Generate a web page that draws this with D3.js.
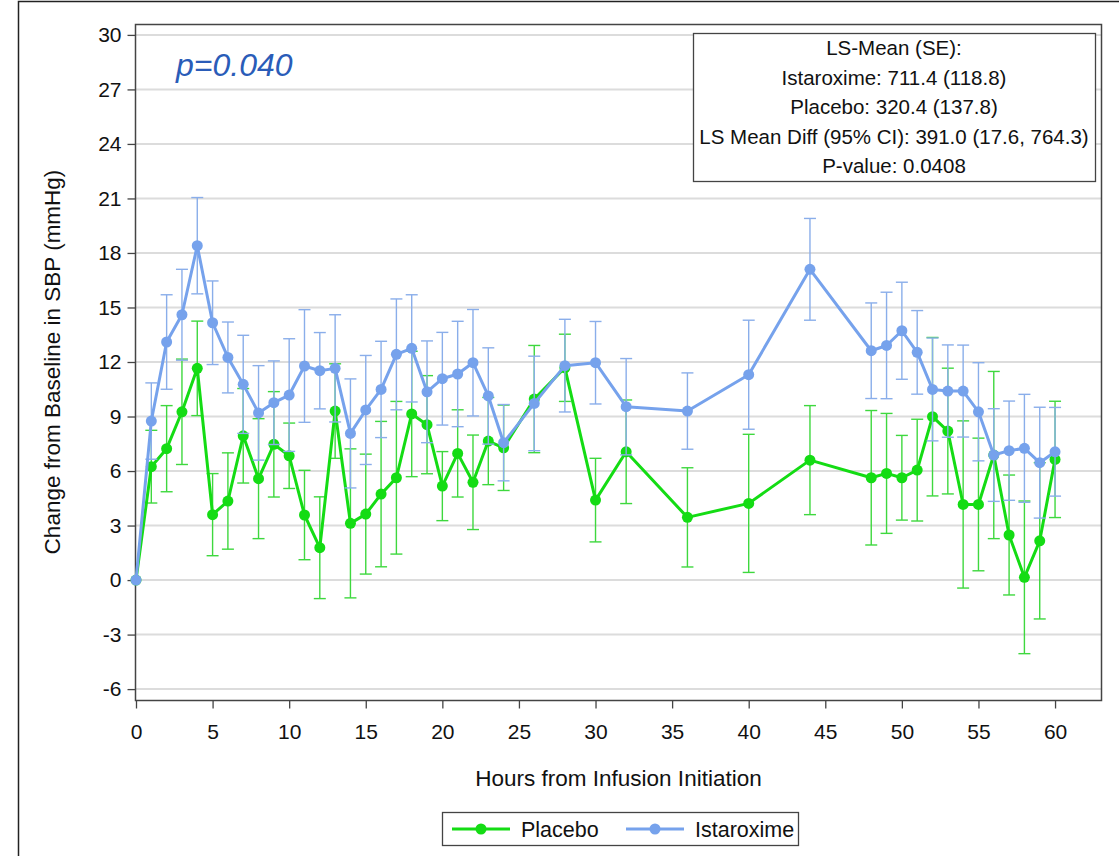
<!DOCTYPE html>
<html>
<head>
<meta charset="utf-8">
<script src="https://cdn.jsdelivr.net/npm/d3@7"></script>
<style>
  body { margin: 0; background: #fff; }
  svg { display: block; font-family: "Liberation Sans", Arial, sans-serif; }
</style>
</head>
<body>
<div id="wrapper"></div>
<script>
// Data
const hours = [0,1,2,3,4,5,6,7,8,9,10,11,12,13,14,15,16,17,18,19,20,21,22,23,24,
  26,28,30,32,36,40,44,48,49,50,51,52,53,54,55,56,57,58,59,60]

const placebo = [0,6.24,7.23,9.26,11.65,3.6,4.35,7.94,5.58,7.47,6.84,
  3.58,1.78,9.3,3.12,3.63,4.73,5.63,9.14,8.55,5.17,6.97,5.38,7.65,7.28,
  9.96,11.68,4.4,7.06,3.45,4.22,6.6,
  5.63,5.87,5.63,6.05,8.99,8.2,4.16,4.16,6.88,2.48,0.15,2.16,6.64]
const placeboErr = [0,2.0,2.37,2.9,2.6,2.26,2.65,2.6,3.3,2.9,1.8,
  2.46,2.8,2.6,4.1,3.3,4.0,4.2,3.45,2.7,1.9,2.4,2.6,2.4,2.35,
  2.95,1.85,2.3,2.85,2.73,3.8,3.0,
  3.7,3.3,2.33,2.8,4.36,3.46,4.6,3.65,4.6,3.3,4.2,4.3,3.2]

const istaroxime = [0,8.75,13.1,14.6,18.4,14.16,12.25,10.77,9.2,9.76,10.18,
  11.78,11.52,11.65,8.07,9.36,10.49,12.42,12.75,10.36,11.08,11.34,11.96,10.13,7.56,
  9.72,11.8,11.96,9.54,9.3,11.3,17.1,
  12.62,12.91,13.72,12.53,10.49,10.4,10.4,9.26,6.88,7.12,7.25,6.46,7.06]
const istaroximeErr = [0,2.1,2.6,2.5,2.65,2.3,1.95,2.7,2.6,2.3,3.1,
  3.1,2.1,2.95,3.0,3.0,2.65,3.05,2.95,2.8,2.55,2.9,2.93,2.65,2.1,
  2.6,2.55,2.27,2.65,2.1,3.0,2.8,
  2.63,2.93,2.67,2.3,2.83,2.54,2.53,2.7,2.55,2.73,2.97,3.05,2.44]

const yTicks = [-6,-3,0,3,6,9,12,15,18,21,24,27,30]
const xTicks = [0,5,10,15,20,25,30,35,40,45,50,55,60]

const statsLines = [
  "LS-Mean (SE):",
  "Istaroxime: 711.4 (118.8)",
  "Placebo: 320.4 (137.8)",
  "LS Mean Diff (95% CI): 391.0 (17.6, 764.3)",
  "P-value: 0.0408",
]

const series = [
  { name: "Placebo", values: placebo, err: placeboErr, color: "#14dc14", errColor: "#3ed83e" },
  { name: "Istaroxime", values: istaroxime, err: istaroximeErr, color: "#76a2ec", errColor: "#8aaeea" },
]

// Dimensions
const dms = {
  width: 1119,
  height: 856,
  left: 136,
  right: 1101,
  top: 24,
  bottom: 700,
}

const svg = d3.select("#wrapper")
  .append("svg")
  .attr("width", dms.width)
  .attr("height", dms.height)

// outer border (left + top)
svg.append("path")
  .attr("d", `M18.5,${dms.height} L18.5,1.5 L${dms.width},1.5`)
  .attr("fill", "none")
  .attr("stroke", "#222")
  .attr("stroke-width", 1.5)

// Scales
const xScale = d3.scaleLinear()
  .domain([0, 63])
  .range([dms.left, dms.right])

const yScale = d3.scaleLinear()
  .domain([-6.6, 30.6])
  .range([dms.bottom, dms.top])

// Gridlines
svg.append("g")
  .selectAll("line")
  .data(yTicks)
  .join("line")
  .attr("x1", dms.left)
  .attr("x2", dms.right)
  .attr("y1", d => yScale(d))
  .attr("y2", d => yScale(d))
  .attr("stroke", "#dcdcdc")
  .attr("stroke-width", 2)

// Axes
const yAxis = svg.append("g")
  .attr("transform", `translate(${dms.left - 0.5},0)`)
  .call(d3.axisLeft(yScale).tickValues(yTicks).tickFormat(d => String(d)).tickSize(8).tickPadding(6))
const xAxis = svg.append("g")
  .attr("transform", `translate(0,${dms.bottom + 0.5})`)
  .call(d3.axisBottom(xScale).tickValues(xTicks).tickFormat(d => String(d)).tickSize(8).tickPadding(16))

;[xAxis, yAxis].forEach(ax => {
  ax.select(".domain").remove()
  ax.selectAll(".tick line").attr("stroke", "#444").attr("stroke-width", 1.3)
  ax.selectAll(".tick text")
    .attr("fill", "#111")
    .style("font-size", "21px")
    .style("font-family", "'Liberation Sans', Arial, sans-serif")
})

// Plot frame
svg.append("rect")
  .attr("x", dms.left - 0.5)
  .attr("y", dms.top + 0.5)
  .attr("width", dms.right - dms.left + 1)
  .attr("height", dms.bottom - dms.top)
  .attr("fill", "none")
  .attr("stroke", "#444")
  .attr("stroke-width", 1.5)

// Series
const capHalf = 6
series.forEach(s => {
  const g = svg.append("g")
  const pts = hours.map((h, i) => ({ h, v: s.values[i], e: s.err[i] }))

  const bars = g.append("g")
    .selectAll("g")
    .data(pts.filter(d => d.e > 0))
    .join("g")
    .attr("stroke", s.errColor)
    .attr("stroke-width", 1.4)

  bars.append("line")
    .attr("x1", d => xScale(d.h))
    .attr("x2", d => xScale(d.h))
    .attr("y1", d => yScale(d.v - d.e))
    .attr("y2", d => yScale(d.v + d.e))
  bars.append("line")
    .attr("x1", d => xScale(d.h) - capHalf)
    .attr("x2", d => xScale(d.h) + capHalf)
    .attr("y1", d => yScale(d.v + d.e))
    .attr("y2", d => yScale(d.v + d.e))
  bars.append("line")
    .attr("x1", d => xScale(d.h) - capHalf)
    .attr("x2", d => xScale(d.h) + capHalf)
    .attr("y1", d => yScale(d.v - d.e))
    .attr("y2", d => yScale(d.v - d.e))

  const line = d3.line()
    .x(d => xScale(d.h))
    .y(d => yScale(d.v))

  g.append("path")
    .datum(pts)
    .attr("d", line)
    .attr("fill", "none")
    .attr("stroke", s.color)
    .attr("stroke-width", 3)
    .attr("stroke-linejoin", "round")

  g.append("g")
    .selectAll("circle")
    .data(pts)
    .join("circle")
    .attr("cx", d => xScale(d.h))
    .attr("cy", d => yScale(d.v))
    .attr("r", 5.5)
    .attr("fill", s.color)
})

// p-value annotation
svg.append("text")
  .attr("x", 176)
  .attr("y", 76)
  .attr("fill", "#2a5cb8")
  .style("font-size", "32px")
  .style("font-style", "italic")
  .text("p=0.040")

// Stats box
const box = { x: 693, y: 33, w: 402, h: 148 }
svg.append("rect")
  .attr("x", box.x + 0.5)
  .attr("y", box.y + 0.5)
  .attr("width", box.w)
  .attr("height", box.h)
  .attr("fill", "#fff")
  .attr("stroke", "#444")
  .attr("stroke-width", 1.3)

svg.append("g")
  .selectAll("text")
  .data(statsLines)
  .join("text")
  .attr("x", box.x + box.w / 2)
  .attr("y", (d, i) => box.y + 15 + i * 29.5)
  .attr("dy", "0.35em")
  .attr("text-anchor", "middle")
  .attr("fill", "#111")
  .style("font-size", "20.5px")
  .text(d => d)

// Axis labels
svg.append("text")
  .attr("x", (dms.left + dms.right) / 2)
  .attr("y", 786)
  .attr("text-anchor", "middle")
  .attr("fill", "#111")
  .style("font-size", "22.5px")
  .text("Hours from Infusion Initiation")

svg.append("text")
  .attr("transform", `translate(60,${(dms.top + dms.bottom) / 2}) rotate(-90)`)
  .attr("text-anchor", "middle")
  .attr("fill", "#111")
  .style("font-size", "22.5px")
  .text("Change from Baseline in SBP (mmHg)")

// Legend
const legend = svg.append("g").attr("transform", "translate(442,812)")
legend.append("rect")
  .attr("x", 0.5)
  .attr("y", 0.5)
  .attr("width", 356)
  .attr("height", 33)
  .attr("fill", "#fff")
  .attr("stroke", "#444")
  .attr("stroke-width", 1.3)

const legendX = [10, 184]
series.forEach((s, i) => {
  const lg = legend.append("g").attr("transform", `translate(${legendX[i]},17)`)
  lg.append("line")
    .attr("x1", 0).attr("x2", 58)
    .attr("stroke", s.color)
    .attr("stroke-width", 3)
  lg.append("circle")
    .attr("cx", 29)
    .attr("r", 5.5)
    .attr("fill", s.color)
  lg.append("text")
    .attr("x", 69)
    .attr("dy", "0.35em")
    .attr("fill", "#111")
    .style("font-size", "21.5px")
    .text(s.name)
})
</script>
</body>
</html>
